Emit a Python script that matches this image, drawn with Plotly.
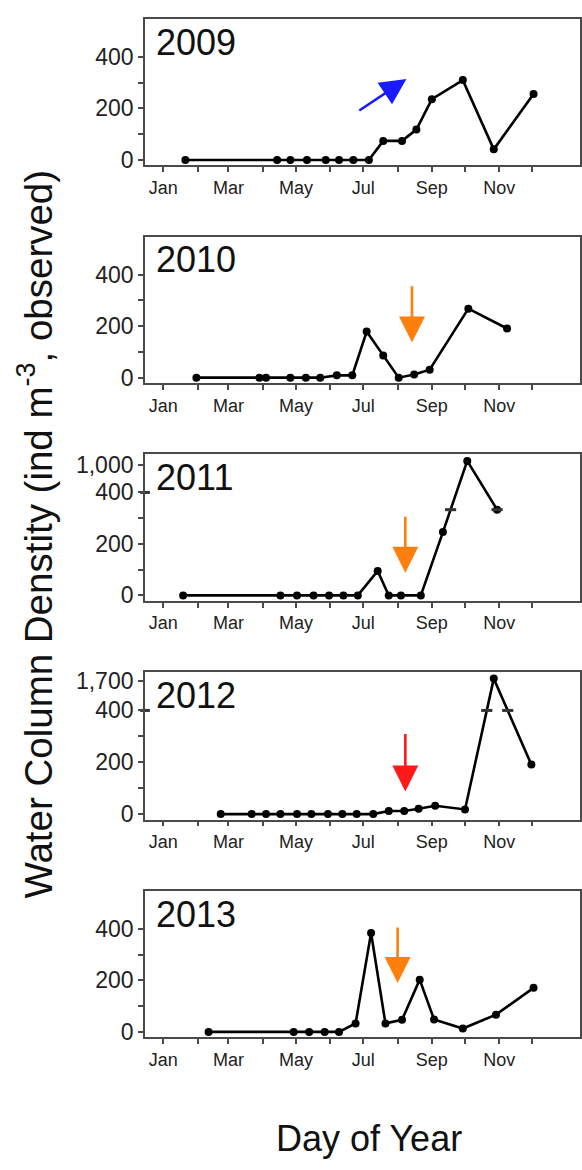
import plotly.graph_objects as go

# Sampling dates (day of year) and water column density (ind m^-3) per year
years = [2009, 2010, 2011, 2012, 2013]

days_2009 = [21, 104, 116, 131, 148, 160, 173, 187, 200, 217, 230, 244, 272, 300, 336]
dens_2009 = [0, 0, 0, 0, 0, 0, 0, 0, 74, 74, 118, 236, 310, 41, 256]

days_2010 = [31, 88, 94, 116, 130, 143, 158, 172, 185, 200, 214, 228, 242, 277, 312]
dens_2010 = [0, 0, 0, 0, 0, 0, 9, 9, 179, 86, 0, 12, 31, 268, 191]

days_2011 = [19, 107, 122, 137, 151, 164, 177, 195, 205, 216, 234, 254, 276, 303]
dens_2011 = [0, 0, 0, 0, 0, 0, 0, 95, 0, 0, 0, 246, 1080, 333]

days_2012 = [53, 81, 94, 107, 122, 135, 150, 163, 176, 191, 205, 219, 232, 247, 274, 300, 334]
dens_2012 = [0, 0, 0, 0, 0, 0, 0, 0, 0, 0, 12, 12, 21, 32, 18, 1800, 191]

days_2013 = [42, 119, 133, 147, 160, 175, 189, 202, 217, 233, 246, 272, 302, 336]
dens_2013 = [0, 0, 0, 0, 0, 33, 384, 33, 47, 203, 48, 13, 67, 171]

series = {
    2009: (days_2009, dens_2009),
    2010: (days_2010, dens_2010),
    2011: (days_2011, dens_2011),
    2012: (days_2012, dens_2012),
    2013: (days_2013, dens_2013),
}

# Broken y axes: value shown at the top tick, its axis position, and the level
# where break marks are drawn on the line
axis_breaks = {2011: (1000, 508, 333), 2012: (1700, 514, 400)}

# Event arrows: (year, tail day, tail value, head day, head value, colour)
arrows = [
    (2009, 177, 188, 221, 314, "#1a1aff"),
    (2010, 226, 361, 226, 137, "#ff7f0e"),
    (2011, 220, 311, 220, 88, "#ff7f0e"),
    (2012, 220, 315, 220, 87, "#ff1a1a"),
    (2013, 213, 411, 213, 190, "#ff7f0e"),
]

month_days = [1, 32, 60, 91, 121, 152, 182, 213, 244, 274, 305, 335]
month_text = ["Jan", "", "Mar", "", "May", "", "Jul", "", "Sep", "", "Nov", ""]

W, H = 582, 1170
x_left_px, x_right_px = 145, 580
panel_px = [(15, 163), (235, 383), (455, 603), (675, 824), (896, 1044)]

FONT = "Liberation Sans, Arial, Helvetica, sans-serif"
AXIS_COLOR = "#4a4a4a"
BREAK_COLOR = "#333333"


def axis_pos(v, year):
    if year not in axis_breaks or v <= 400:
        return v
    top_val, top_pos, _ = axis_breaks[year]
    return 400 + (v - 400) * (top_pos - 400) / (top_val - 400)


fig = go.Figure()
layout = {}
annotations = []

for i, year in enumerate(years):
    n = "" if i == 0 else str(i + 1)
    xa, ya = "x" + n, "y" + n
    days, dens = series[year]
    ypos = [axis_pos(v, year) for v in dens]

    fig.add_trace(go.Scatter(
        x=days, y=ypos, xaxis=xa, yaxis=ya, mode="lines+markers",
        line=dict(color="black", width=2.6),
        marker=dict(color="black", size=8),
        showlegend=False, cliponaxis=False,
    ))

    tickvals = [0, 100, 200, 300, 400]
    ticktext = ["0", "", "200", "", "400"]
    if year in axis_breaks:
        top_val, top_pos, level = axis_breaks[year]
        tickvals.append(top_pos)
        ticktext.append(f"{top_val:,}")
        # break marks where the line passes the break level
        bx, by = [], []
        for k in range(len(days) - 1):
            y0, y1 = ypos[k], ypos[k + 1]
            if (y0 - level) * (y1 - level) <= 0 and max(y0, y1) > 400 + 1e-9:
                t = (level - y0) / (y1 - y0)
                bx.append(days[k] + t * (days[k + 1] - days[k]))
                by.append(level)
        fig.add_trace(go.Scatter(
            x=bx, y=by, xaxis=xa, yaxis=ya, mode="markers",
            marker=dict(symbol="line-ew", size=8, color=BREAK_COLOR,
                        line=dict(color=BREAK_COLOR, width=3)),
            showlegend=False, cliponaxis=False,
        ))
        # break mark on the y axis
        fig.add_trace(go.Scatter(
            x=[-15.5], y=[400], xaxis=xa, yaxis=ya, mode="markers",
            marker=dict(symbol="line-ew", size=7, color=BREAK_COLOR,
                        line=dict(color=BREAK_COLOR, width=3)),
            showlegend=False, cliponaxis=False,
        ))

    top_px, bot_px = panel_px[i]
    layout["xaxis" + n] = dict(
        domain=[x_left_px / W, x_right_px / W], anchor=ya,
        range=[-15.5, 378], tickmode="array", tickvals=month_days,
        ticktext=month_text, ticks="outside", ticklen=5, tickwidth=1.6,
        tickcolor=AXIS_COLOR, showline=True, linecolor=AXIS_COLOR,
        linewidth=1.8, mirror=True, showgrid=False, zeroline=False,
        tickfont=dict(size=18, color="#222222", family=FONT),
    )
    layout["yaxis" + n] = dict(
        domain=[1 - bot_px / H, 1 - top_px / H], anchor=xa,
        range=[-21, 548], tickmode="array", tickvals=tickvals,
        ticktext=ticktext, ticks="outside", ticklen=5, tickwidth=1.6,
        tickcolor=AXIS_COLOR, showline=True, linecolor=AXIS_COLOR,
        linewidth=1.8, mirror=True, showgrid=False, zeroline=False,
        tickfont=dict(size=23, color="#222222", family=FONT),
    )

    annotations.append(dict(
        text=str(year), xref=xa + " domain", yref=ya + " domain",
        x=0.02, y=0.995, xanchor="left", yanchor="top", showarrow=False,
        font=dict(size=36, color="#111111", family=FONT),
    ))

for year, d0, v0, d1, v1, color in arrows:
    i = years.index(year)
    n = "" if i == 0 else str(i + 1)
    annotations.append(dict(
        x=d1, y=axis_pos(v1, year), ax=d0, ay=axis_pos(v0, year),
        xref="x" + n, yref="y" + n, axref="x" + n, ayref="y" + n,
        text="", showarrow=True, arrowhead=2, arrowsize=2.0,
        arrowwidth=2.6, arrowcolor=color,
    ))

annotations.append(dict(
    text="Water Column Denstity (ind m<sup>-3</sup>, observed)",
    xref="paper", yref="paper", x=35 / W, y=1 - 536 / H,
    xanchor="center", yanchor="middle", textangle=-90, showarrow=False,
    font=dict(size=38.5, color="#111111", family=FONT),
))
annotations.append(dict(
    text="Day of Year", xref="paper", yref="paper",
    x=369 / W, y=1 - 1146 / H, xanchor="center", yanchor="middle",
    showarrow=False, font=dict(size=36, color="#111111", family=FONT),
))

fig.update_layout(
    width=W, height=H, margin=dict(l=0, r=0, t=0, b=0),
    paper_bgcolor="white", plot_bgcolor="white",
    annotations=annotations, **layout,
)

fig.write_html("out.html")
